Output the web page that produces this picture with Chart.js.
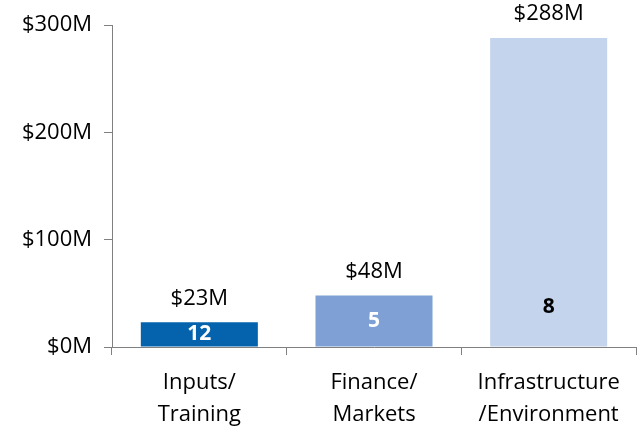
<!DOCTYPE html>
<html>
<head>
<meta charset="utf-8">
<script src="https://cdn.jsdelivr.net/npm/chart.js@4"></script>
<style>
  html, body { margin: 0; padding: 0; background: #fff; }
  #wrap { width: 644px; height: 432px; }
</style>
</head>
<body>
<div id="wrap"><canvas id="chart"></canvas></div>
<script>
const categories = [['Inputs/', 'Training'], ['Finance/', 'Markets'], ['Infrastructure', '/Environment']];
const funding = [23, 48, 288];          // $M
const counts = [12, 5, 8];              // number inside each bar
const barColors = ['#0563ad', '#7ea0d5', '#c3d4ec'];
const countColors = ['#ffffff', '#ffffff', '#000000'];
const yTicks = [0, 100, 200, 300];

const font = { family: "'Open Sans', 'DejaVu Sans', sans-serif" };
const axisGray = '#808080';

new Chart(document.getElementById('chart'), {
  type: 'bar',
  data: {
    labels: categories,
    datasets: [{
      data: funding,
      backgroundColor: barColors,
      borderWidth: 0,
      barPercentage: 0.67,
      categoryPercentage: 1
    }]
  },
  options: {
    responsive: true, maintainAspectRatio: false,
    animation: false,
    layout: { padding: { top: 24, right: 8, left: 0, bottom: 0 } },
    plugins: { legend: { display: false }, tooltip: { enabled: false } },
    scales: {
      y: {
        min: 0, max: 300,
        afterBuildTicks: s => { s.ticks = yTicks.map(v => ({ value: v })); },
        afterFit: s => { s.width = 112; },
        ticks: { callback: v => '$' + v + 'M', color: '#000', padding: 12, font: { ...font, size: 22 } },
        grid: { drawOnChartArea: false, tickLength: 8, color: axisGray },
        border: { display: true, color: axisGray, width: 1 }
      },
      x: {
        afterFit: s => { s.height = 85; },
        ticks: { color: '#000', padding: 12, font: { ...font, size: 22, lineHeight: 1.45 } },
        grid: { drawOnChartArea: false, tickLength: 8, color: axisGray, offset: true },
        border: { display: true, color: axisGray, width: 1 }
      }
    }
  },
  plugins: [{
    id: 'barLabels',
    afterDatasetsDraw(chart) {
      const ctx = chart.ctx;
      const meta = chart.getDatasetMeta(0);
      ctx.save();
      ctx.textAlign = 'center'; ctx.textBaseline = 'middle';
      meta.data.forEach((bar, i) => {
        ctx.fillStyle = '#000';
        ctx.font = `22px ${font.family}`;
        ctx.fillText('$' + funding[i] + 'M', bar.x, bar.y - 24);
        const mid = (bar.y + bar.base) / 2;
        ctx.fillStyle = countColors[i];
        ctx.font = `bold 21px ${font.family}`;
        ctx.fillText(counts[i], bar.x, Math.max(mid, bar.base - 39));
      });
      ctx.restore();
    }
  }]
});
</script>
</body>
</html>
